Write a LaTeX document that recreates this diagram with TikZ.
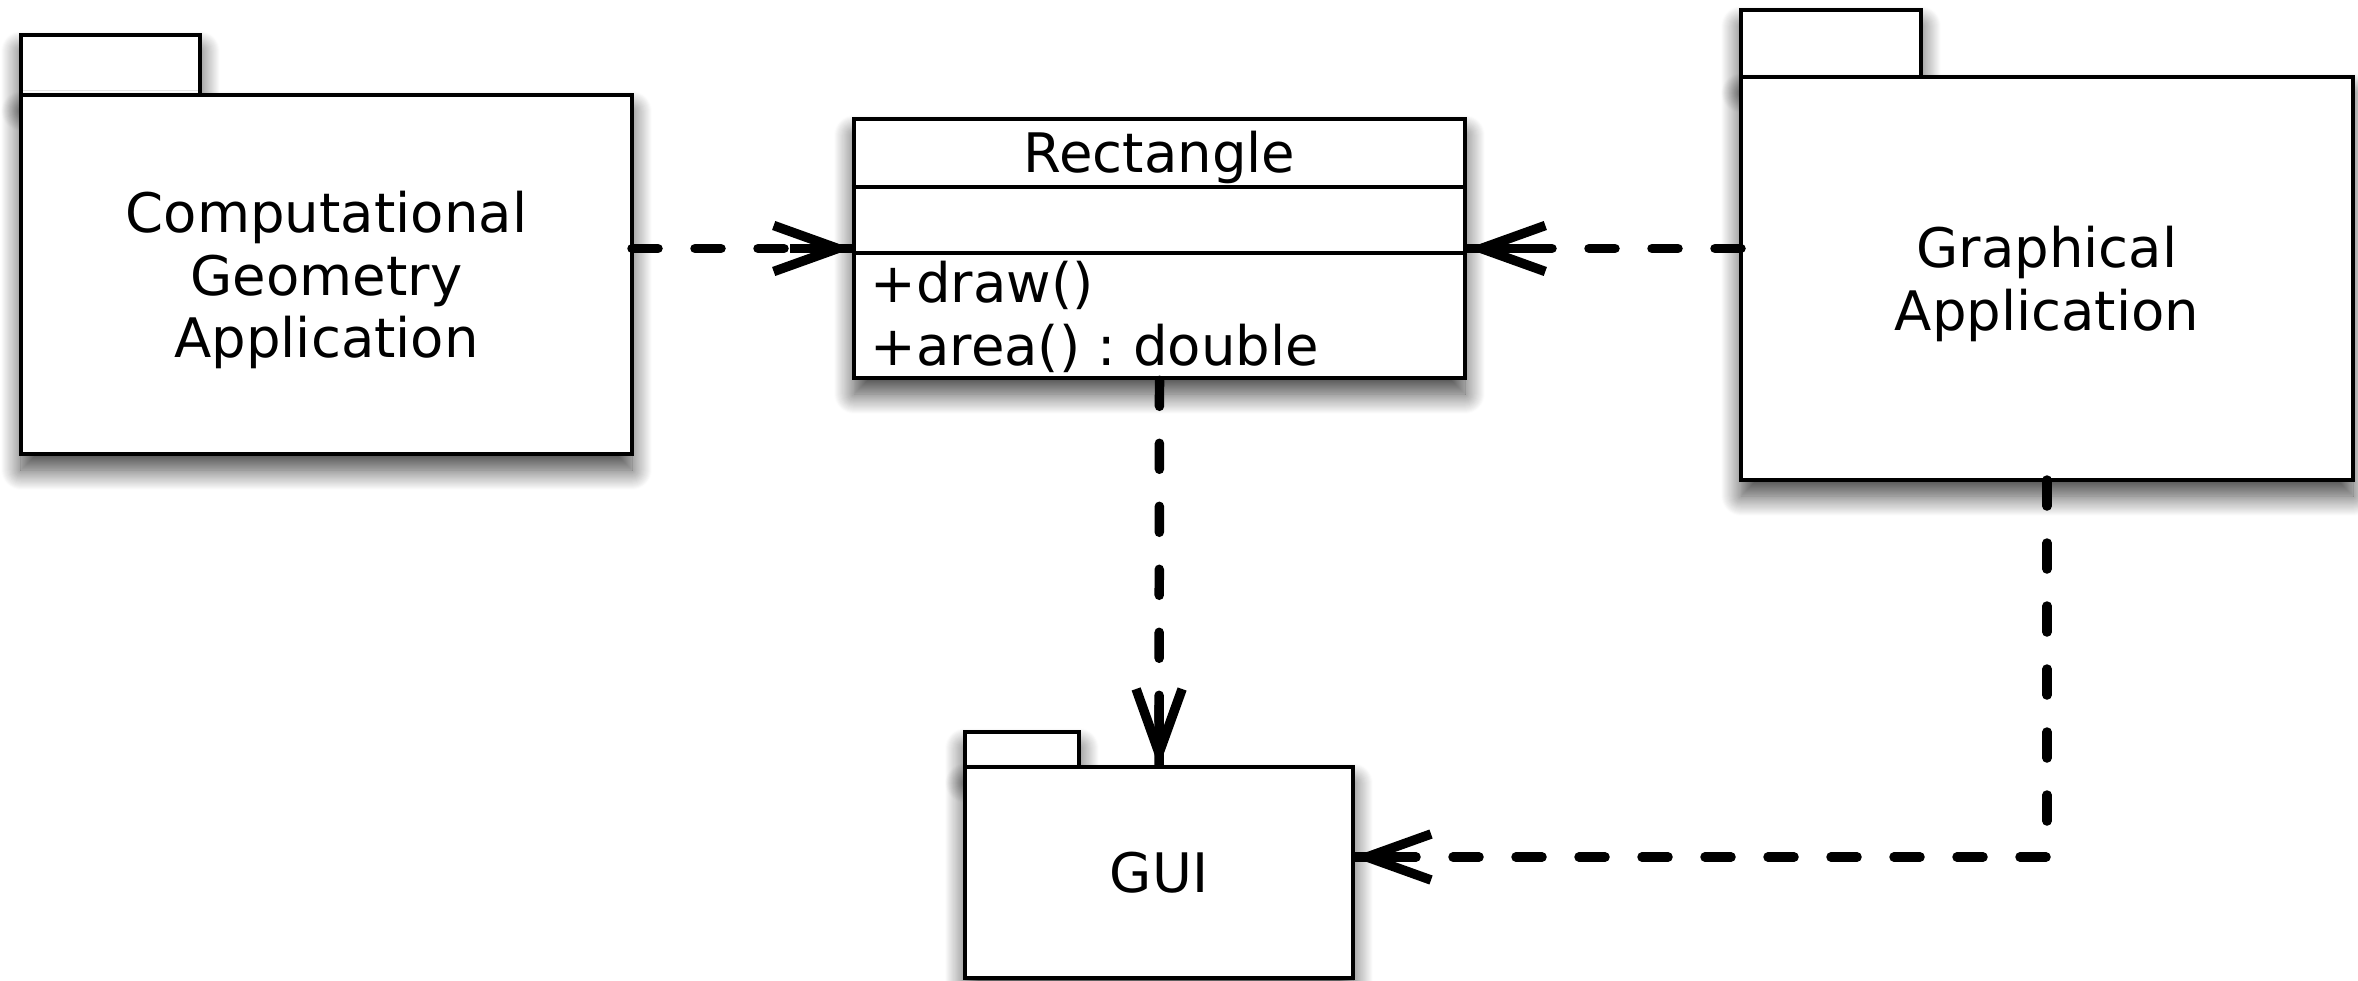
\documentclass[tikz,border=0pt]{standalone}
\usepackage{fontspec}
\setmainfont{DejaVu Sans}
\usetikzlibrary{arrows.meta, positioning, shadows.blur, decorations.markings}
\frenchspacing

\begin{document}
\begin{tikzpicture}[
    font=\fontsize{15.5pt}{17.8pt}\selectfont,
    softshadow/.style={blur shadow={shadow xshift=0cm, shadow yshift=-0.16cm,
        shadow blur radius=0.2cm, shadow blur steps=20, shadow opacity=75}},
    pkg/.style={draw, line width=1.3pt, fill=white, outer sep=0pt, inner sep=0pt, softshadow},
    pkgtab/.style={pkg, anchor=south west},
    pkgbody/.style={pkg, anchor=north west, align=center, text depth=0pt},
    classbox/.style={draw, line width=1.3pt, fill=white, inner sep=0pt, softshadow},
    divider/.style={line width=1.3pt},
    dep/.style={line width=2.7pt, line cap=round, dash pattern=on 0.26cm off 0.37cm,
        -{Straight Barb[length=0.64cm, width=0.46cm, sharp]},
        postaction={decorate, decoration={markings,
            mark=at position 1 with {\draw[solid, line cap=butt, -] (0,0) -- (-0.62cm,0);}}}}
]
    \useasboundingbox (0,0) rectangle (23.58,9.80);

    % packages
    \node[pkgtab, minimum width=1.79cm, minimum height=0.60cm] (cgaTab) at (0.21,8.85) {};
    \node[pkgbody, minimum width=6.11cm, minimum height=3.59cm] (cga) at (cgaTab.south west)
        {Computational\\Geometry\\Application};

    \node[pkgtab, minimum width=1.80cm, minimum height=0.67cm] (gaTab) at (17.41,9.03) {};
    \node[pkgbody, minimum width=6.12cm, minimum height=4.03cm] (ga) at (gaTab.south west)
        {Graphical\\Application};

    \node[pkgtab, minimum width=1.14cm, minimum height=0.35cm] (guiTab) at (9.65,2.13) {};
    \node[pkgbody, minimum width=3.88cm, minimum height=2.11cm] (gui) at (guiTab.south west) {GUI};

    % class
    \node[classbox, minimum width=6.11cm, minimum height=2.59cm] (rect) at (11.595,7.315) {};
    \draw[divider] (rect.west |- 0,7.93) -- (rect.east |- 0,7.93);
    \draw[divider] (rect.west |- 0,7.27) -- (rect.east |- 0,7.27);
    \node[anchor=base] (rectName) at (11.595,8.08) {Rectangle};
    \node[anchor=base west, inner sep=0pt] (opDraw) at (8.70,6.78) {+draw()};
    \node[anchor=base west, inner sep=0pt] (opArea) at (8.70,6.15) {+area() : double};

    % dependencies
    \draw[dep] (cga.east |- rect.west) -- (rect.west);
    \draw[dep] (ga.west |- rect.east) -- (rect.east);
    \draw[dep] (rect.south) -- (gui.north);
    \draw[dep] (ga.south) |- ([yshift=0.155cm]gui.east);
\end{tikzpicture}
\end{document}
